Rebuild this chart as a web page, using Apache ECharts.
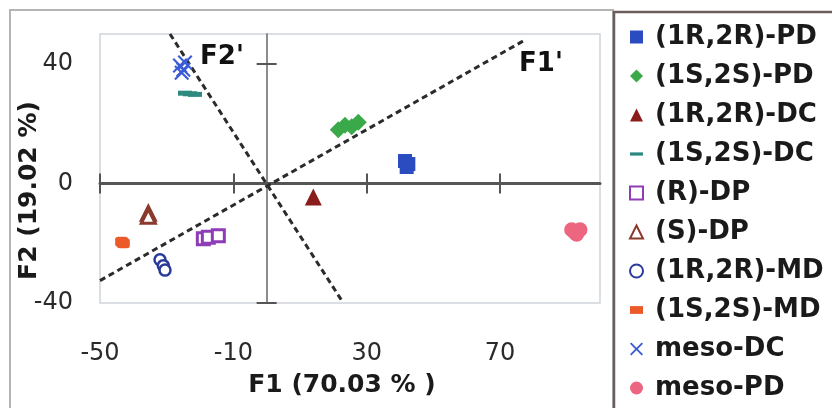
<!DOCTYPE html>
<html>
<head>
<meta charset="utf-8">
<script src="https://cdn.jsdelivr.net/npm/echarts@6/dist/echarts.min.js"></script>
<style>html,body{margin:0;padding:0;background:#fff}#c{width:832px;height:408px}</style>
</head>
<body>
<div id="c"></div>
<script>
// ---- data ----
const xTicks = [-50, -10, 30, 70];
const yTicks = [-40, 0, 40];
const xTitle = 'F1 (70.03 % )';
const yTitle = 'F2 (19.02 %)';
const seriesNames = ['(1R,2R)-PD','(1S,2S)-PD','(1R,2R)-DC','(1S,2S)-DC','(R)-DP','(S)-DP','(1R,2R)-MD','(1S,2S)-MD','meso-DC','meso-PD'];
const rrPD   = [[41.5, 7.5], [42.5, 6.5], [42, 5.5]];
const ssPD   = [[21.5, 18], [23.5, 19.5], [25.5, 19], [27.5, 20.5]];
const rrDC   = [[14, -4.5]];
const ssDC   = [[-24.5, 30.2], [-23, 30], [-21.5, 29.8]];
const rDP    = [[-19, -18.5], [-17.5, -18], [-14.5, -17.5]];
const sDP    = [[-35.5, -10], [-35.5, -11]];
const rrMD   = [[-32, -25.5], [-31, -27.5], [-30.5, -29]];
const ssMD   = [[-43.5, -19.5], [-43, -20]];
const mesoDC = [[-26, 39.5], [-25, 38], [-24.5, 40.5], [-25.5, 37]];
const mesoPD = [[91.5, -15.5], [93, -17], [94, -15.5], [92.5, -16.5]];
const f1Line = [[-50, -32.5], [77.5, 48]];
const f2Line = [[-29, 50], [23, -40]];
const axisLabelNames = ["F1'", "F2'"];
const axisLabelPos = [[82.3, 40], [-13.4, 42.2]];

// ---- chart ----
const FF = 'DejaVu Sans';
const chart = echarts.init(document.getElementById('c'), null, {renderer: 'canvas'});
const X = {min: -50, max: 100};
const Y = {min: -40, max: 50};
const crossAxis = (pos, isX, showLine, ticks) => ({
  type: 'value', min: isX ? X.min : Y.min, max: isX ? X.max : Y.max, position: pos,
  axisLine: {show: showLine, onZero: true, onZeroAxisIndex: 0,
             lineStyle: isX ? {color: '#555', width: 3} : {color: '#8c8c8c', width: 2}},
  axisTick: {show: true, customValues: ticks, length: 10, lineStyle: {color: '#555', width: 2}},
  axisLabel: {show: false}, splitLine: {show: false}
});
const sym = (name, data, symbol, size, style) => ({
  name, type: 'scatter', data, symbol, symbolSize: size, itemStyle: Object.assign({opacity: 1}, style), z: 5
});
const xIcon = 'path://M1,0L5,4L9,0L10,1L6,5L10,9L9,10L5,6L1,10L0,9L4,5L0,1Z';

chart.setOption({
  animation: false,
  backgroundColor: '#fff',
  textStyle: {fontFamily: FF},
  grid: {left: 100, top: 34, width: 500, height: 269, show: true, borderColor: '#cfd5db', borderWidth: 1.5,
         backgroundColor: '#fff', outerBoundsMode: 'none', containLabel: false},
  graphic: [
    {type: 'rect', shape: {x: 10, y: 10, width: 603, height: 420}, style: {fill: 'none', stroke: '#b4b4b4', lineWidth: 2}, silent: true},
    {type: 'rect', shape: {x: 614, y: 12, width: 240, height: 420}, style: {fill: 'none', stroke: '#6b5d5d', lineWidth: 2.5}, silent: true}
  ],
  legend: {
    orient: 'vertical', left: 629, top: 23, padding: 0, itemGap: 11, itemWidth: 13, itemHeight: 13,
    textStyle: {fontFamily: FF, fontWeight: 'bold', fontSize: 26, color: '#1a1a1a', lineHeight: 28, padding: [0, 0, 0, 7]},
    data: seriesNames.map(n => n === '(1S,2S)-DC' ? {name: n, icon: 'path://M0,0H16V4H0Z'} :
                           n === '(1S,2S)-MD' ? {name: n, icon: 'path://M0,0H10V6H0Z'} : {name: n})
  },
  xAxis: [
    {type: 'value', min: X.min, max: X.max, position: 'bottom',
     axisLine: {show: false, onZero: false}, axisTick: {show: false}, splitLine: {show: false},
     axisLabel: {customValues: xTicks, margin: 39, fontSize: 24, color: '#2a2a2a', fontFamily: FF},
     name: xTitle, nameLocation: 'middle', nameGap: 70, nameMoveOverlap: false,
     nameTextStyle: {fontFamily: FF, fontWeight: 'bold', fontSize: 25, color: '#1a1a1a', padding: [0, 16, 0, 0]}},
    crossAxis('top', true, true, xTicks),
    crossAxis('bottom', true, false, xTicks)
  ],
  yAxis: [
    {type: 'value', min: Y.min, max: Y.max, position: 'left',
     axisLine: {show: false, onZero: false}, axisTick: {show: false}, splitLine: {show: false},
     axisLabel: {customValues: yTicks, margin: 27, fontSize: 24, color: '#2a2a2a', fontFamily: FF, padding: [5, 0, 0, 0]},
     name: yTitle, nameLocation: 'middle', nameGap: 58, nameRotate: 90, nameMoveOverlap: false,
     nameTextStyle: {fontFamily: FF, fontWeight: 'bold', fontSize: 25, color: '#1a1a1a', padding: [0, 44, 0, 0]}},
    crossAxis('left', false, true, yTicks),
    crossAxis('right', false, false, yTicks)
  ],
  series: [
    {type: 'line', data: f1Line, symbol: 'none', silent: true, z: 3,
     lineStyle: {color: '#2b2b2b', width: 3, type: [6, 4]}},
    {type: 'line', data: f2Line, symbol: 'none', silent: true, z: 3,
     lineStyle: {color: '#2b2b2b', width: 3, type: [6, 4]}},
    {type: 'scatter', silent: true, symbolSize: 0, z: 6, itemStyle: {opacity: 1},
     data: axisLabelPos.map((p, i) => ({value: p, name: axisLabelNames[i]})),
     label: {show: true, position: 'inside', formatter: '{b}', fontFamily: FF, fontWeight: 'bold', fontSize: 26, color: '#111', opacity: 1}},
    sym(seriesNames[0], rrPD, 'rect', 14, {color: '#2a4cc0'}),
    sym(seriesNames[1], ssPD, 'diamond', 17, {color: '#3aa94a'}),
    sym(seriesNames[2], rrDC, 'triangle', 17, {color: '#8b1c1c'}),
    sym(seriesNames[3], ssDC, 'rect', [14, 5], {color: '#2e8a80'}),
    sym(seriesNames[4], rDP, 'rect', 12, {color: '#fff', borderColor: '#8e3cb8', borderWidth: 3}),
    sym(seriesNames[5], sDP, 'triangle', 14, {color: '#fff', borderColor: '#8a3a2c', borderWidth: 3}),
    sym(seriesNames[6], rrMD, 'circle', 11, {color: '#fff', borderColor: '#2a3a9c', borderWidth: 2.5}),
    sym(seriesNames[7], ssMD, 'roundRect', [13, 10], {color: '#ec5a2a'}),
    sym(seriesNames[8], mesoDC, xIcon, 15, {color: '#3a5cd6'}),
    sym(seriesNames[9], mesoPD, 'circle', 15, {color: '#ec6680'})
  ]
});
</script>
</body>
</html>
